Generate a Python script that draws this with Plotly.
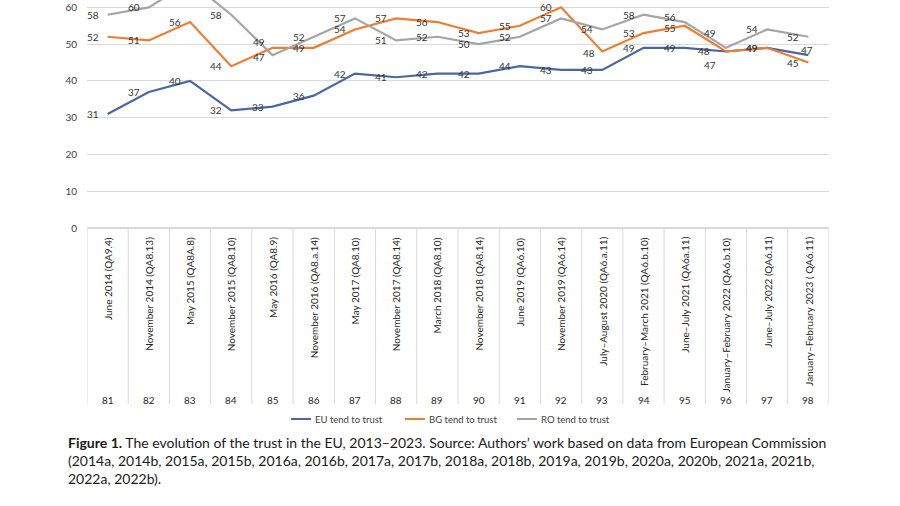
import plotly.graph_objects as go

categories = ["June 2014 (QA9.4)", "November 2014 (QA8.13)", "May 2015 (QA8A.8)",
              "November 2015 (QA8.10)", "May 2016 (QA8.9)", "November 2016 (QA8.a.14)",
              "May 2017 (QA8.10)", "November 2017 (QA8.14)", "March 2018 (QA8.10)",
              "November 2018 (QA8.14)", "June 2019 (QA6.10)", "November 2019 (QA6.14)",
              "July–August 2020 (QA6.a.11)", "February–March 2021 (QA6.b.10)",
              "June–July 2021 (QA6a.11)", "January–February 2022 (QA6.b.10)",
              "June–July 2022 (QA6.11)", "January–February 2023 ( QA6.11)"]
waves = [81, 82, 83, 84, 85, 86, 87, 88, 89, 90, 91, 92, 93, 94, 95, 96, 97, 98]

eu = [31, 37, 40, 32, 33, 36, 42, 41, 42, 42, 44, 43, 43, 49, 49, 48, 49, 47]
bg = [52, 51, 56, 44, 49, 49, 54, 57, 56, 53, 55, 60, 48, 53, 55, 48, 49, 45]
ro = [58, 60, 67, 58, 47, 52, 57, 51, 52, 50, 52, 57, 54, 58, 56, 49, 54, 52]

# data labels as printed on the chart
eu_labels = ["31", "37", "40", "32", "33", "36", "42", "41", "42", "42", "44", "43", "43", "49", "49", "48", "49", "47"]
bg_labels = ["52", "51", "56", "44", "47", "49", "54", "57", "56", "53", "55", "60", "48", "53", "55", "47", "49", "45"]
ro_labels = ["58", "60", "", "58", "49", "52", "57", "51", "52", "50", "52", "57", "54", "58", "56", "49", "54", "52"]

series = [("EU tend to trust", eu, eu_labels, "#4A67A1"),
          ("BG tend to trust", bg, bg_labels, "#ED7D31"),
          ("RO tend to trust", ro, ro_labels, "#A5A5A5")]

FONT = "Lato"
PLOT_H = 228.0
L, R = 87, 71


def py(p):
    return (PLOT_H - p) / PLOT_H


def px(p):
    return (p - L) / (900 - L - R)


xs = list(range(len(categories)))
fig = go.Figure()
for name, vals, labs, col in series:
    fig.add_trace(go.Scatter(x=xs, y=vals, mode="lines", name=name,
                             line=dict(color=col, width=2.2), showlegend=False,
                             hoverinfo="skip"))

# label offsets (xshift, yshift) – default left of point
shifts = {
    ("EU", 15): (-22, 0), ("EU", 17): (-1, 5),
    ("BG", 4): (-14, -9), ("BG", 15): (-16, -14), ("BG", 12): (-13, -2),
    ("BG", 14): (-15, -2), ("RO", 14): (-15, 5),
    ("RO", 4): (-14, 13), ("RO", 15): (-16, 15),
}
annotations = []
for name, vals, labs, col in series:
    key = name[:2]
    for i, (v, t) in enumerate(zip(vals, labs)):
        if not t:
            continue
        xs_, ys_ = shifts.get((key, i), (-15, 0))
        annotations.append(dict(x=i, y=v, xref="x", yref="y", text=t, showarrow=False,
                                xshift=xs_, yshift=ys_,
                                font=dict(family=FONT, size=10, color="#333333")))

shapes = []
# table separators
for i in range(len(categories) + 1):
    shapes.append(dict(type="line", xref="x", yref="paper", x0=i - 0.5, x1=i - 0.5,
                       y0=0, y1=py(404), line=dict(color="#D9D9D9", width=1)))

# category labels and wave numbers
for i, (c, w) in enumerate(zip(categories, waves)):
    annotations.append(dict(x=i, y=py(235), xref="x", yref="paper", text=c, showarrow=False,
                            textangle=-90, xanchor="center", yanchor="top",
                            font=dict(family=FONT, size=10, color="#262626")))
    annotations.append(dict(x=i, y=py(400), xref="x", yref="paper", text=str(w), showarrow=False,
                            xanchor="center", yanchor="middle",
                            font=dict(family=FONT, size=10, color="#262626")))

# custom legend
leg_x = [(291, 311), (405, 425), (517, 537)]
for (name, vals, labs, col), (a, b) in zip(series, leg_x):
    shapes.append(dict(type="line", xref="paper", yref="paper", x0=px(a), x1=px(b),
                       y0=py(419), y1=py(419), line=dict(color=col, width=2)))
    annotations.append(dict(x=px(b + 2), y=py(419), xref="paper", yref="paper", text=name,
                            showarrow=False, xanchor="left", yanchor="middle",
                            font=dict(family=FONT, size=9.5, color="#404040")))

caption = ("<b>Figure 1.</b> The evolution of the trust in the EU, 2013–2023. Source: Authors’ work based on data from European Commission"
           "<br>(2014a, 2014b, 2015a, 2015b, 2016a, 2016b, 2017a, 2017b, 2018a, 2018b, 2019a, 2019b, 2020a, 2020b, 2021a, 2021b,"
           "<br>2022a, 2022b).")
annotations.append(dict(x=px(66), y=py(432), xref="paper", yref="paper", text=caption,
                        showarrow=False, xanchor="left", yanchor="top", align="left",
                        font=dict(family=FONT, size=14, color="#1a1a1a")))

fig.update_layout(
    width=900, height=506,
    margin=dict(l=L, r=R, t=0, b=506 - int(PLOT_H), pad=0),
    paper_bgcolor="white", plot_bgcolor="white",
    xaxis=dict(range=[-0.5, len(categories) - 0.5], showticklabels=False, showgrid=False,
               zeroline=False, fixedrange=True),
    yaxis=dict(range=[0, 62], tickvals=[0, 10, 20, 30, 40, 50, 60], showgrid=True,
               gridcolor="#D9D9D9", gridwidth=1, zeroline=True, zerolinecolor="#D9D9D9",
               ticklabelstandoff=9, tickfont=dict(family=FONT, size=10, color="#404040")),
    annotations=annotations, shapes=shapes,
)

fig.write_html("out.html")
